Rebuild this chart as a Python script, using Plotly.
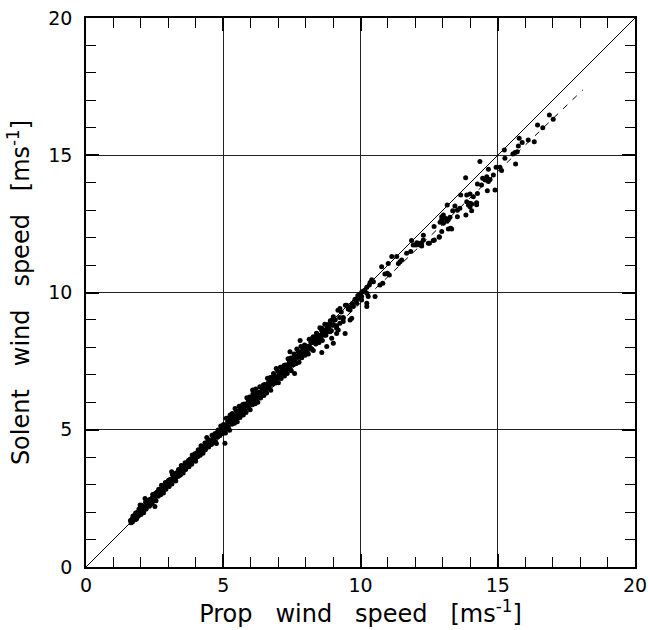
import plotly.graph_objects as go

# scatter points, (prop, solent) in m/s
low_range = [
    (1.62, 1.69), (1.64, 1.61), (1.67, 1.73), (1.69, 1.64), (1.71, 1.86), (1.74, 1.75),
    (1.76, 1.86), (1.79, 1.72), (1.81, 1.97), (1.84, 1.75), (1.86, 1.90), (1.88, 2.00),
    (1.91, 1.86), (1.93, 2.11), (1.95, 1.94), (1.98, 2.06), (2.00, 1.91), (2.02, 2.25),
    (2.05, 2.07), (2.07, 2.21), (2.10, 1.98), (2.12, 2.19), (2.14, 2.10), (2.17, 2.36),
    (2.19, 2.11), (2.22, 2.27), (2.24, 2.35), (2.27, 2.25), (2.29, 2.44), (2.31, 2.21),
    (2.34, 2.47), (2.36, 2.33), (2.39, 2.45), (2.41, 2.30), (2.43, 2.64), (2.46, 2.47),
    (2.48, 2.58), (2.51, 2.44), (2.53, 2.69), (2.55, 2.41), (2.58, 2.62), (2.60, 2.72),
    (2.63, 2.58), (2.65, 2.83), (2.67, 2.66), (2.70, 2.78), (2.72, 2.63), (2.75, 2.98),
    (2.77, 2.79), (2.79, 2.93), (2.82, 2.70), (2.84, 2.91), (2.87, 2.83), (2.89, 3.08),
    (2.91, 2.83), (2.94, 2.99), (2.96, 3.07), (2.99, 2.97), (3.01, 3.16), (3.03, 2.93),
    (3.06, 3.19), (3.08, 3.05), (3.11, 3.17), (3.13, 3.02), (3.15, 3.36), (3.18, 3.19),
    (3.20, 3.30), (3.23, 3.16), (3.25, 3.41), (3.27, 3.13), (3.30, 3.34), (3.32, 3.44),
    (3.35, 3.30), (3.37, 3.55), (3.39, 3.38), (3.42, 3.50), (3.44, 3.35), (3.47, 3.70),
    (3.49, 3.51), (3.51, 3.65), (3.54, 3.42), (3.56, 3.63), (3.59, 3.55), (3.61, 3.80),
    (3.63, 3.55), (3.66, 3.71), (3.68, 3.79), (3.71, 3.69), (3.73, 3.88), (3.75, 3.65),
    (3.78, 3.91), (3.80, 3.77), (3.83, 3.89), (3.85, 3.74), (3.87, 4.08), (3.90, 3.91),
    (3.92, 4.02), (3.95, 3.88), (3.97, 4.13), (3.99, 3.85), (4.02, 4.06), (4.04, 4.16),
    (4.07, 4.02), (4.09, 4.27), (4.11, 4.10), (4.14, 4.22), (4.16, 4.07), (4.19, 4.42),
    (4.21, 4.23), (4.23, 4.37), (4.26, 4.14), (4.28, 4.35), (4.31, 4.27), (4.33, 4.52),
    (4.35, 4.27), (4.38, 4.43), (4.40, 4.51), (4.43, 4.41), (4.45, 4.60), (4.47, 4.37),
    (4.50, 4.63), (4.52, 4.49), (4.55, 4.61), (4.57, 4.46), (4.59, 4.80), (4.62, 4.63),
    (4.64, 4.74), (4.67, 4.60), (4.69, 4.85), (4.71, 4.57), (4.74, 4.78), (4.76, 4.88),
    (4.79, 4.74), (4.81, 4.99), (4.83, 4.82), (4.86, 4.94), (4.88, 4.79), (4.91, 5.14),
    (4.93, 4.95), (4.95, 5.09), (4.98, 4.86), (1.97, 2.26), (2.15, 2.50), (2.51, 2.20),
    (3.12, 3.47), (4.40, 4.72), (4.75, 4.50),
]

mid_range = [
    (5.01, 5.19), (5.03, 4.95), (5.06, 5.13), (5.08, 4.88), (5.11, 5.42), (5.13, 5.12),
    (5.16, 5.29), (5.18, 5.04), (5.21, 5.44), (5.23, 4.98), (5.26, 5.30), (5.28, 5.44),
    (5.31, 5.20), (5.33, 5.59), (5.36, 5.32), (5.38, 5.48), (5.41, 5.24), (5.43, 5.77),
    (5.46, 5.46), (5.48, 5.68), (5.51, 5.29), (5.53, 5.61), (5.56, 5.47), (5.58, 5.86),
    (5.61, 5.45), (5.63, 5.68), (5.66, 5.81), (5.68, 5.62), (5.71, 5.92), (5.73, 5.54),
    (5.76, 5.94), (5.78, 5.70), (5.81, 5.88), (5.83, 5.63), (5.86, 6.17), (5.88, 5.87),
    (5.91, 6.04), (5.93, 5.79), (5.96, 6.19), (5.98, 5.73), (6.01, 6.01), (6.03, 6.15),
    (6.06, 5.91), (6.08, 6.30), (6.11, 6.03), (6.13, 6.19), (6.16, 5.95), (6.18, 6.48),
    (6.21, 6.17), (6.23, 6.39), (6.26, 6.00), (6.28, 6.32), (6.31, 6.18), (6.33, 6.57),
    (6.36, 6.16), (6.38, 6.39), (6.41, 6.52), (6.43, 6.33), (6.46, 6.63), (6.48, 6.25),
    (6.51, 6.65), (6.53, 6.41), (6.56, 6.59), (6.58, 6.34), (6.61, 6.88), (6.63, 6.58),
    (6.66, 6.75), (6.68, 6.50), (6.71, 6.90), (6.73, 6.44), (6.76, 6.76), (6.78, 6.90),
    (6.81, 6.66), (6.83, 7.05), (6.86, 6.78), (6.88, 6.94), (6.91, 6.70), (6.93, 7.23),
    (6.96, 6.92), (6.98, 7.14), (7.01, 6.71), (7.03, 7.03), (7.06, 6.89), (7.08, 7.28),
    (7.11, 6.87), (7.13, 7.10), (7.16, 7.23), (7.18, 7.04), (7.21, 7.34), (7.23, 6.96),
    (7.26, 7.36), (7.28, 7.12), (7.31, 7.30), (7.33, 7.05), (7.36, 7.59), (7.38, 7.29),
    (7.41, 7.46), (7.43, 7.21), (7.46, 7.61), (7.48, 7.15), (7.51, 7.47), (7.53, 7.61),
    (7.56, 7.37), (7.58, 7.76), (7.61, 7.49), (7.63, 7.65), (7.66, 7.41), (7.68, 7.94),
    (7.71, 7.63), (7.73, 7.85), (7.76, 7.46), (7.78, 7.78), (7.81, 7.64), (7.83, 8.03),
    (7.86, 7.62), (7.88, 7.85), (7.91, 7.98), (7.93, 7.79), (7.96, 8.09), (7.98, 7.71),
    (8.01, 8.05), (8.04, 7.82), (8.07, 8.00), (8.10, 7.76), (8.13, 8.30), (8.16, 8.01),
    (8.19, 8.18), (8.22, 7.94), (8.25, 8.34), (8.28, 7.89), (8.31, 8.21), (8.34, 8.36),
    (8.37, 8.12), (8.40, 8.52), (8.43, 8.25), (8.46, 8.42), (8.49, 8.18), (8.52, 8.72),
    (8.55, 8.41), (8.58, 8.64), (8.61, 8.25), (8.64, 8.58), (8.67, 8.44), (8.70, 8.84),
    (8.74, 8.44), (8.78, 8.69), (8.82, 8.83), (8.86, 8.66), (8.90, 8.97), (8.94, 8.61),
    (8.98, 9.02), (9.03, 8.81), (9.08, 9.01), (9.13, 8.79), (9.18, 9.35), (9.24, 9.09),
    (9.30, 9.29), (9.37, 9.09), (9.45, 9.54), (5.25, 5.54), (5.06, 4.51), (6.07, 6.45),
    (7.80, 8.25), (7.43, 7.84), (8.59, 7.81), (7.60, 7.05),
]

# points hidden inside the dense part of the band
band_core = [
    (1.70, 1.78), (1.76, 1.76), (1.82, 1.93), (1.88, 1.84), (1.94, 1.98), (2.00, 2.13),
    (2.06, 2.04), (2.12, 2.18), (2.18, 2.12), (2.24, 2.33), (2.30, 2.38), (2.36, 2.36),
    (2.42, 2.53), (2.48, 2.44), (2.54, 2.58), (2.60, 2.73), (2.66, 2.64), (2.72, 2.78),
    (2.78, 2.72), (2.84, 2.93), (2.90, 2.98), (2.96, 2.96), (3.02, 3.13), (3.08, 3.04),
    (3.14, 3.18), (3.20, 3.33), (3.26, 3.24), (3.32, 3.38), (3.38, 3.32), (3.44, 3.53),
    (3.50, 3.58), (3.56, 3.56), (3.62, 3.73), (3.68, 3.64), (3.74, 3.78), (3.80, 3.93),
    (3.86, 3.84), (3.92, 3.98), (3.98, 3.92), (4.04, 4.13), (4.10, 4.18), (4.16, 4.16),
    (4.22, 4.33), (4.28, 4.24), (4.34, 4.38), (4.40, 4.53), (4.46, 4.44), (4.52, 4.58),
    (4.58, 4.52), (4.64, 4.73), (4.70, 4.78), (4.76, 4.76), (4.82, 4.93), (4.88, 4.84),
    (4.94, 4.98), (5.00, 5.12), (5.06, 5.03), (5.12, 5.17), (5.18, 5.11), (5.24, 5.32),
    (5.30, 5.37), (5.36, 5.35), (5.42, 5.52), (5.48, 5.43), (5.54, 5.57), (5.60, 5.72),
    (5.66, 5.63), (5.72, 5.77), (5.78, 5.71), (5.84, 5.92), (5.90, 5.97), (5.96, 5.95),
    (6.02, 6.08), (6.08, 5.99), (6.14, 6.13), (6.20, 6.28), (6.26, 6.19), (6.32, 6.33),
    (6.38, 6.27), (6.44, 6.48), (6.50, 6.53), (6.56, 6.51), (6.62, 6.68), (6.68, 6.59),
    (6.74, 6.73), (6.80, 6.88), (6.86, 6.79), (6.92, 6.93), (6.98, 6.87), (7.04, 7.04),
    (7.10, 7.09), (7.16, 7.07), (7.22, 7.24), (7.28, 7.15), (7.34, 7.29), (7.40, 7.44),
    (7.46, 7.35), (7.52, 7.49), (7.58, 7.43), (7.64, 7.64), (7.70, 7.69), (7.76, 7.67),
    (7.82, 7.84), (7.88, 7.75), (7.94, 7.89), (8.00, 7.98), (8.06, 7.89), (8.12, 8.03),
    (8.18, 7.97), (8.24, 8.18), (8.30, 8.23), (8.36, 8.21), (8.42, 8.38), (8.48, 8.29),
    (8.54, 8.43), (8.60, 8.58), (8.66, 8.49), (8.72, 8.63), (8.78, 8.57), (8.84, 8.78),
    (8.90, 8.83), (8.96, 8.81), (9.02, 8.98),
]

high_range = [
    (8.40, 8.51), (8.28, 8.39), (8.52, 8.27), (8.77, 8.03), (8.95, 8.33), (9.01, 8.15),
    (8.77, 8.82), (8.59, 8.70), (8.71, 8.51), (9.25, 9.42), (9.01, 9.12), (9.37, 9.06),
    (9.68, 9.06), (9.25, 8.88), (9.13, 8.70), (8.89, 8.57), (9.44, 8.51), (9.13, 8.51),
    (9.19, 8.63), (9.37, 8.94), (9.62, 9.00), (9.55, 9.40), (9.70, 9.60), (9.80, 9.75),
    (9.90, 9.88), (10.00, 9.95), (10.10, 10.05), (9.85, 9.70), (9.60, 9.48), (10.05, 10.02),
    (9.95, 9.92), (10.23, 9.61), (10.23, 9.49), (10.04, 9.73), (9.86, 9.61), (9.74, 9.49),
    (9.62, 9.36), (9.50, 9.54), (10.16, 10.09), (10.23, 9.97), (10.04, 9.85), (9.92, 9.79),
    (9.96, 9.85), (10.28, 9.85), (10.53, 9.85), (10.41, 10.46), (10.35, 10.36),
    (10.47, 10.39), (10.32, 10.27), (10.23, 10.19), (11.01, 11.06), (10.77, 10.94),
    (10.89, 10.67), (11.05, 10.64), (10.98, 10.70), (10.71, 10.27), (10.81, 10.34),
    (11.68, 11.43), (11.50, 11.18), (11.44, 11.12), (11.32, 11.31), (11.38, 11.06),
    (11.14, 11.31), (11.83, 11.49), (12.29, 12.09), (12.05, 11.81), (11.92, 11.73),
    (12.17, 11.73), (12.23, 11.81), (11.86, 11.89), (12.02, 11.73), (12.11, 11.79),
    (12.23, 11.69), (12.29, 11.91), (12.69, 11.91), (12.51, 11.79), (12.47, 11.79),
    (12.65, 11.89), (12.87, 12.01), (13.02, 12.52), (12.96, 12.22), (12.68, 12.40),
    (12.87, 12.03), (13.28, 12.34), (13.20, 12.31), (13.32, 12.31), (12.90, 12.56),
    (13.20, 12.65), (13.15, 12.60), (12.96, 12.76), (13.02, 12.82), (13.11, 12.70),
    (12.96, 12.66), (13.26, 12.74), (13.53, 12.76), (13.84, 12.82), (13.99, 13.12),
    (14.23, 13.20), (14.05, 12.98), (13.16, 13.19), (13.44, 13.15), (13.53, 13.00),
    (13.62, 13.07), (13.36, 12.98), (13.87, 13.31), (13.99, 13.25), (13.93, 13.19),
    (14.05, 13.22), (14.23, 13.27), (14.26, 13.61), (14.11, 13.49), (13.99, 13.59),
    (13.87, 13.55), (13.65, 13.55), (14.62, 13.71), (14.90, 13.73), (14.41, 13.92),
    (14.26, 13.95), (13.83, 14.18), (14.60, 14.22), (14.45, 14.16), (14.54, 14.10),
    (14.72, 14.12), (14.84, 14.28), (14.66, 14.04), (14.66, 14.49), (14.35, 14.77),
    (15.08, 14.56), (14.94, 14.56), (15.14, 14.44), (15.65, 14.68), (15.26, 14.89),
    (15.55, 15.05), (15.63, 15.10), (15.71, 15.13), (15.24, 15.19), (15.89, 15.46),
    (15.78, 15.62), (15.75, 15.34), (16.33, 15.49), (16.11, 15.56), (16.64, 16.00),
    (16.45, 16.10), (16.88, 16.47), (17.02, 16.31),
]

# one-to-one line and the fitted (dashed) line
one_to_one_x = [0, 20]
one_to_one_y = [0, 20]
fit_x = [1.65, 18.1]
fit_y = [1.62, 17.38]

points = low_range + mid_range + band_core + high_range
prop_speed = [p[0] for p in points]
solent_speed = [p[1] for p in points]

fig = go.Figure()
fig.add_trace(
    go.Scatter(x=one_to_one_x, y=one_to_one_y, mode="lines",
               line=dict(color="black", width=1), hoverinfo="skip")
)
fig.add_trace(
    go.Scatter(x=fit_x, y=fit_y, mode="lines",
               line=dict(color="black", width=1, dash="6px,7px"), hoverinfo="skip")
)
fig.add_trace(
    go.Scatter(x=prop_speed, y=solent_speed, mode="markers",
               marker=dict(color="black", size=5, line=dict(width=0)))
)

font = dict(family="DejaVu Sans, Liberation Sans, sans-serif", color="black")
nb = "&nbsp;&nbsp;&nbsp;"

axis = dict(
    range=[0, 20],
    tick0=0,
    dtick=5,
    ticks="inside",
    ticklen=13,
    tickwidth=1.5,
    tickcolor="black",
    showgrid=True,
    gridcolor="#222222",
    gridwidth=1,
    zeroline=False,
    showline=True,
    linecolor="black",
    linewidth=1.5,
    mirror="ticks",
    automargin=False,
    tickfont=dict(size=19, **font),
    minor=dict(dtick=1, ticks="inside", ticklen=10, tickcolor="black", tickwidth=1, showgrid=False),
)

fig.update_layout(
    width=649,
    height=630,
    autosize=False,
    showlegend=False,
    margin=dict(l=86, r=14, t=18, b=63),
    plot_bgcolor="white",
    paper_bgcolor="white",
    xaxis=dict(axis, title=dict(text=f"Prop{nb}wind{nb}speed{nb}[ms<sup>-1</sup>]",
                                font=dict(size=24, **font), standoff=3)),
    yaxis=dict(axis, ticklabelstandoff=8,
               title=dict(text=f"Solent{nb}wind{nb}speed{nb}[ms<sup>-1</sup>]",
                          font=dict(size=24, **font), standoff=12)),
)

# drop the browser's default 8px body margin so the figure fills the window
fig.write_html(
    "out.html",
    config=dict(displayModeBar=False),
    post_script="document.body.style.margin='0px'; document.body.style.overflow='hidden';",
)
